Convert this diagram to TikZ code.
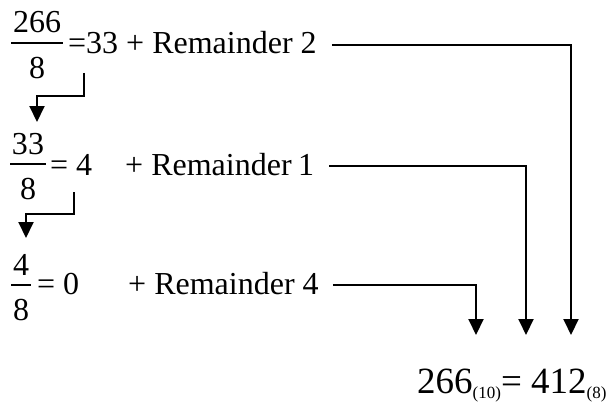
\documentclass[tikz,border=0pt]{standalone}
\usepackage{fontspec}
\setmainfont{Liberation Serif}
\usetikzlibrary{arrows.meta}
\usetikzlibrary{calc}

\tikzset{
    eqtext/.style={font=\fontsize{32}{38}\selectfont, inner sep=0pt, text height=18pt, text depth=0pt, anchor=base west},
    numtext/.style={font=\fontsize{32}{38}\selectfont, inner sep=0pt, anchor=base},
    restext/.style={font=\fontsize{37}{44}\selectfont, inner sep=0pt, anchor=base west},
    fracbar/.style={draw=black, line width=1.5pt, shorten <=-1.5pt, shorten >=-1.5pt},
    downarrow/.style={draw=black, line width=2pt, -{Triangle[width=15pt,length=16pt]}},
}
\newcommand{\subidx}[1]{\raisebox{-5pt}{\fontsize{17}{19}\selectfont #1}}
\newcommand{\drawfraction}[4]{
    \begin{scope}[shift={(#2)}]
        \node[numtext] (#1num) at (0,-10) {#3};
        \node[numtext] (#1den) at (0, 35) {#4};
        \draw[fracbar] (#1num.west |- 0,0) -- (#1num.east |- 0,0);
    \end{scope}
}

\begin{document}
\begin{tikzpicture}[x=1pt, y=-1pt]
    \useasboundingbox (0,0) rectangle (609,401);
    \drawfraction{f1}{37,43}{266}{8};
    \drawfraction{f2}{28,164}{33}{8};
    \drawfraction{f3}{21,285}{4}{8};
    \node[eqtext] (r1) at (68,54) {=33 + Remainder 2};
    \node[eqtext] (q2) at (50,175) {= 4};
    \node[eqtext] (r2) at (125,175) {+ Remainder\hspace{0.2em}1};
    \node[eqtext] (q3) at (37,294) {= 0};
    \node[eqtext] (r3) at (128,294) {+ Remainder 4};
    \node[restext] (res) at (417,393) {266\subidx{(10)}= 412\subidx{(8)}};
    % quotient goes down to the next division
    \coordinate (s1) at (84,73);
    \coordinate (e1) at (37,122);
    \coordinate (s2) at (74,192);
    \coordinate (e2) at (26,238);
    \draw [downarrow] (s1) -- ++(0,23) -| (e1);
    \draw [downarrow] (s2) -- ++(0,22) -| (e2);
    % remainders read from bottom to top
    \coordinate (t4) at (476,335);
    \coordinate (t1) at (526,335);
    \coordinate (t2) at (571,335);
    \draw [downarrow, shorten <=15pt] (r1.east) -| (t2);
    \draw [downarrow, shorten <=15pt] (r2.east) -| (t1);
    \draw [downarrow, shorten <=14pt] (r3.east) -| (t4);
\end{tikzpicture}
\end{document}
